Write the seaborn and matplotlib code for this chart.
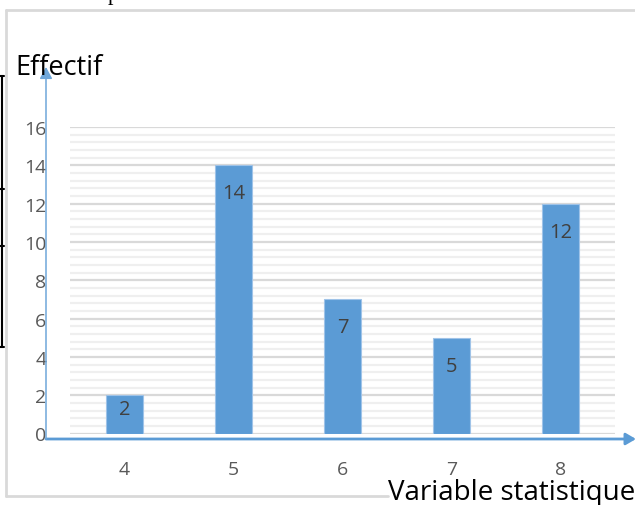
"""Bar chart: Effectif vs Variable statistique"""
import numpy as np
import matplotlib.pyplot as plt
import seaborn as sns
from matplotlib.lines import Line2D

# ================= DATA =================
variable = ['4', '5', '6', '7', '8']
effectif = [2, 14, 7, 5, 12]
y_ticks = [0, 2, 4, 6, 8, 10, 12, 14, 16]

sns.set_style('white')
plt.rcParams['font.family'] = ['Open Sans', 'DejaVu Sans']

W, H = 635, 506
fig = plt.figure(figsize=(W / 100, H / 100), dpi=100)
ax = fig.add_axes([70 / W, (H - 434.5) / H, 545 / W, 306.5 / H])

sns.barplot(x=variable, y=effectif, color='#5b9bd5', saturation=1, width=0.34,
            edgecolor='#9fc3e8', linewidth=0.8, ax=ax)

ax.set_xlim(-0.5, 4.5)
ax.set_ylim(0, 16)
ax.set_yticks(y_ticks)
ax.set_yticks(np.arange(0, 16.01, 0.4), minor=True)
ax.yaxis.grid(True, which='major', color='#d9d9d9', lw=1.6)
ax.yaxis.grid(True, which='minor', color='#efefef', lw=1.6)
ax.set_axisbelow(True)
ax.set_xlabel('')
ax.set_ylabel('')
for s in ax.spines.values():
    s.set_visible(False)
ax.tick_params(axis='y', which='both', length=0, pad=17, labelsize=14, labelcolor='#595959')
ax.tick_params(axis='x', length=0, pad=19, labelsize=14, labelcolor='#595959')

# data labels inside the bars
for bar, v in zip(ax.patches, effectif):
    off = 28 if v > 3 else 14
    ax.annotate(str(v), (bar.get_x() + bar.get_width() / 2, bar.get_height()),
                xytext=(0, -off), textcoords='offset pixels',
                ha='center', va='center', fontsize=14.5, color='#404040')

# axes drawn as arrows (figure pixels, origin bottom-left)
ax.annotate('', xy=(636, H - 440), xytext=(46, H - 440), xycoords='figure pixels',
            arrowprops=dict(arrowstyle='-|>,head_length=0.6,head_width=0.35',
                            color='#5b9bd5', lw=2, shrinkA=0, shrinkB=0), annotation_clip=False)
ax.annotate('', xy=(46, H - 68), xytext=(46, H - 440), xycoords='figure pixels',
            arrowprops=dict(arrowstyle='-|>,head_length=0.7,head_width=0.38',
                            color='#6fa7da', lw=1.1, shrinkA=0, shrinkB=0), annotation_clip=False)

fig.text(15, H - 75, 'Effectif', transform=None, fontsize=19.5, color='black', va='baseline')
fig.text(388, H - 500, 'Variable statistique', transform=None, fontsize=20,
         color='black', va='baseline')

# chart border (light gray)
border = dict(color='#d9d9d9', lw=2, transform=None)
fig.add_artist(Line2D([6, 6], [H - 11, H - 497], **border))
fig.add_artist(Line2D([6, 640], [H - 11, H - 11], **border))
fig.add_artist(Line2D([6, 388], [H - 497, H - 497], **border))

# bits of the table behind, at the left edge
blk = dict(color='black', lw=1.5, transform=None)
fig.add_artist(Line2D([1.5, 1.5], [H - 77, H - 348], **blk))
for yy in [77, 190, 247, 348]:
    fig.add_artist(Line2D([0, 4], [H - yy, H - yy], **blk))
fig.text(113, H, 'p', transform=None, fontsize=16, family='Liberation Serif',
         ha='center', va='baseline', color='black')

plt.savefig('out.png', dpi=100)
